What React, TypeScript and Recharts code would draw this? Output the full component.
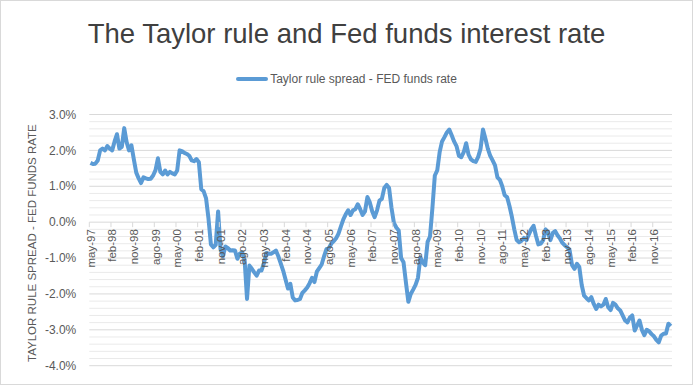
import { LineChart, Line, XAxis, YAxis, CartesianGrid, Legend, Label } from 'recharts';

// monthly Taylor-rule spread (%), may-97 .. jun-17
const MONTHS = ['ene', 'feb', 'mar', 'abr', 'may', 'jun', 'jul', 'ago', 'sep', 'oct', 'nov', 'dic'];
const START_YEAR = 1997;
const START_MONTH = 4; // may

const SPREAD = [
  1.65, 1.62, 1.63, 1.72, 2.0, 2.05, 2.0, 2.12, 2.05, 2.0, 2.25, 2.45,
  2.05, 2.1, 2.62, 2.23, 2.0, 2.14, 1.75, 1.38, 1.22, 1.09, 1.25, 1.22,
  1.2, 1.21, 1.3, 1.45, 1.78, 1.4, 1.33, 1.44, 1.33, 1.4, 1.36, 1.33,
  1.44, 2.0, 1.98, 1.93, 1.9, 1.85, 1.72, 1.7, 1.76, 1.67, 0.92, 0.86,
  0.66, 0.1, -0.62, -0.7, -0.63, 0.3, -0.75, -0.95, -0.68, -0.72, -0.79, -0.78,
  -0.79, -1.02, -0.88, -0.84, -1.05, -2.14, -1.21, -1.3, -1.4, -1.49, -1.35, -1.35,
  -1.15, -0.86, -0.88, -0.88, -0.84, -0.79, -0.95, -1.15, -1.35, -1.6, -1.85, -1.72,
  -2.1, -2.18, -2.17, -2.14, -1.97, -1.9, -1.82, -1.7, -1.55, -1.67, -1.38, -1.28,
  -1.18, -0.95, -0.75, -0.72, -0.6, -0.53, -0.45, -0.32, -0.12, 0.08, 0.22, 0.33,
  0.2, 0.33, 0.36, 0.5, 0.36, 0.2, 0.3, 0.7, 0.55, 0.3, 0.14, 0.33,
  0.6, 0.65, 0.95, 1.04, 0.95, 0.4, -0.02, -0.15, -0.23, -1.0, -1.12, -1.68,
  -2.22, -2.0, -1.88, -1.75, -1.55, -0.98, -1.12, -1.2, -0.55, -0.4, 0.4, 1.3,
  1.44, 1.95, 2.25, 2.37, 2.5, 2.58, 2.42, 2.25, 2.12, 1.85, 1.81, 1.95,
  2.2, 1.88, 1.75, 1.7, 1.68, 1.82, 2.05, 2.58, 2.33, 2.05, 1.85, 1.72,
  1.58, 1.25, 1.18, 1.0, 0.75, 0.7, 0.45, 0.15, -0.2, -0.5, -0.56, -0.52,
  -0.44, -0.5, -0.35, -0.2, -0.1, -0.38, -0.62, -0.6, -0.5, -0.2, -0.3, -0.5,
  -0.3, -0.25, -0.37, -0.46, -0.58, -0.65, -0.7, -0.79, -1.2, -1.3, -1.16, -1.25,
  -1.75, -2.05, -2.12, -2.18, -2.09, -2.28, -2.42, -2.3, -2.35, -2.3, -2.14, -2.37,
  -2.45, -2.25, -2.3, -2.4, -2.46, -2.6, -2.74, -2.79, -2.66, -2.6, -3.02, -2.88,
  -2.74, -3.0, -3.15, -3.0, -3.04, -3.12, -3.18, -3.28, -3.35, -3.16, -3.11, -3.1,
  -2.83, -2.9,
];

const Y_MIN = -4;
const Y_MAX = 3;
const Y_TICKS = Array.from({ length: 36 }, (_, i) => Math.round((Y_MIN + i * 0.2) * 10) / 10);

const CATEGORIES = SPREAD.map((_, i) => {
  const m = START_MONTH + i;
  const yy = (START_YEAR + Math.floor(m / 12)) % 100;
  return `${MONTHS[m % 12]}-${String(yy).padStart(2, '0')}`;
});

const data = CATEGORIES.map((month, i) => ({ month, spread: SPREAD[i] }));

const W = 693;
const H = 385;
const Y_AXIS_W = 89.3;
const X_AXIS_H = 19.3;
const MARGIN = { top: 114.5, right: 21, bottom: 0, left: 0 };
const PLOT_H = H - MARGIN.top - X_AXIS_H;
const PLOT_W = W - Y_AXIS_W - MARGIN.right;
const STEP = PLOT_W / SPREAD.length;
const ZERO_Y = MARGIN.top + (PLOT_H * Y_MAX) / (Y_MAX - Y_MIN);

const FONT = '"Liberation Sans", Arial, sans-serif';
const BLUE = '#5B9BD5';
const GRAY_TEXT = '#595959';

const gridLine = (p: any) => {
  const v = Y_MAX - ((p.y1 - MARGIN.top) / PLOT_H) * (Y_MAX - Y_MIN);
  const major = Math.abs(v - Math.round(v)) < 0.05;
  return (
    <line
      key={p.key}
      x1={p.x1}
      x2={p.x2}
      y1={p.y1}
      y2={p.y2}
      stroke={major ? '#d9d9d9' : '#eaeaea'}
      strokeWidth={1}
    />
  );
};

const XTick = (props: any) => {
  const { x, payload } = props;
  const ty = ZERO_Y + 7;
  return (
    <g>
      <line x1={x - STEP / 2} x2={x - STEP / 2} y1={ZERO_Y} y2={ZERO_Y + 5} stroke="#d9d9d9" />
      <text
        x={x}
        y={ty}
        dy="0.35em"
        textAnchor="end"
        transform={`rotate(-90 ${x} ${ty})`}
        fontSize={11.5}
        fontFamily={FONT}
        fill={GRAY_TEXT}
      >
        {payload.value}
      </text>
    </g>
  );
};

const YTick = (props: any) => {
  const { y, payload } = props;
  const v = payload.value;
  if (Math.abs(v - Math.round(v)) > 0.05) return <g />;
  return (
    <text x={Y_AXIS_W - 13} y={y} dy="0.35em" textAnchor="end" fontSize={12} fontFamily={FONT} fill={GRAY_TEXT}>
      {`${v.toFixed(1)}%`}
    </text>
  );
};

const LegendContent = () => (
  <div
    style={{
      display: 'flex',
      alignItems: 'center',
      justifyContent: 'center',
      fontFamily: FONT,
      fontSize: 12,
      color: GRAY_TEXT,
      height: 16,
    }}
  >
    <span
      style={{ display: 'inline-block', width: 32, height: 4, borderRadius: 2, background: BLUE, marginRight: 2 }}
    />
    <span>Taylor rule spread - FED funds rate</span>
  </div>
);

export default function App() {
  return (
    <div style={{ position: 'absolute', left: 0, top: 0, width: W, height: H, background: '#fff' }}>
      <div
        style={{
          position: 'absolute',
          left: 0,
          top: 19.5,
          width: W,
          textAlign: 'center',
          fontFamily: FONT,
          fontSize: 27.5,
          lineHeight: 1,
          color: '#404040',
        }}
      >
        The Taylor rule and Fed funds interest rate
      </div>
      <LineChart width={W} height={H} data={data} margin={MARGIN}>
        <CartesianGrid vertical={false} horizontal={gridLine} />
        <XAxis
          dataKey="month"
          height={X_AXIS_H}
          interval={8}
          padding={{ left: STEP / 2, right: STEP / 2 }}
          axisLine={false}
          tickLine={false}
          tick={<XTick />}
        />
        <YAxis
          width={Y_AXIS_W}
          domain={[Y_MIN, Y_MAX]}
          ticks={Y_TICKS}
          interval={0}
          allowDataOverflow
          axisLine={false}
          tickLine={false}
          tick={<YTick />}
        >
          <Label
            value="TAYLOR RULE SPREAD - FED FUNDS RATE"
            angle={-90}
            position="center"
            dx={-12.3}
            dy={3}
            style={{ fontSize: 11.5, fontFamily: FONT, fill: GRAY_TEXT }}
          />
        </YAxis>
        <Legend
          verticalAlign="middle"
          align="center"
          content={<LegendContent />}
          wrapperStyle={{ top: 71, left: 0, width: W }}
        />
        <Line
          type="linear"
          dataKey="spread"
          stroke={BLUE}
          strokeWidth={4}
          strokeLinejoin="round"
          dot={false}
          activeDot={false}
          isAnimationActive={false}
        />
      </LineChart>
      <div
        style={{
          position: 'absolute',
          left: 0,
          top: 0,
          width: W,
          height: H,
          boxSizing: 'border-box',
          border: '1.5px solid #d9d9d9',
          pointerEvents: 'none',
        }}
      />
    </div>
  );
}
